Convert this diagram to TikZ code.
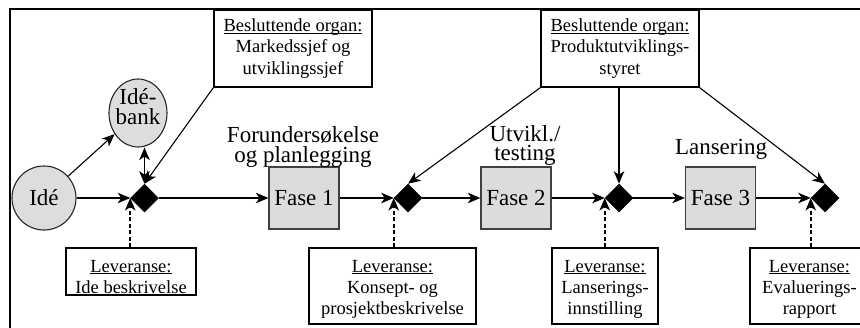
\documentclass[tikz,border=0pt]{standalone}
\usepackage{fontspec}
\setmainfont{Liberation Serif}
\usetikzlibrary{arrows.meta,shapes.geometric}
\definecolor{phasegray}{HTML}{DCDCDC}
\definecolor{bubblegray}{HTML}{DDDDDD}
\definecolor{edgegray}{HTML}{404040}
% underline set just under the baseline, through the descenders
\newcommand{\ulhead}[1]{\underline{\raisebox{0pt}[\height][0pt]{#1}}}
\begin{document}
\begin{tikzpicture}[x=1pt,y=-1pt,
  small/.style={font=\fontsize{18.5}{21}\selectfont},
  big/.style={font=\fontsize{23}{19.5}\selectfont},
  flow/.style={-{Stealth[length=12.5pt,width=10.5pt,inset=3.5pt]}, line width=1.1pt},
  both/.style={{Stealth[length=12.5pt,width=10.5pt,inset=3.5pt]}-{Stealth[length=12.5pt,width=10.5pt,inset=3.5pt]}, line width=1.1pt},
  feed/.style={-{Stealth[length=12.5pt,width=10.5pt,inset=3.5pt]}, line width=1.9pt, dash pattern=on 4pt off 2.5pt},
  bubble/.style={draw=black!85, line width=1.1pt, fill=bubblegray, inner sep=0, big, align=center},
  gate/.style={diamond, fill=black, draw=black, line width=0.5pt, minimum width=28pt, minimum height=28pt, inner sep=0},
  phase/.style={rectangle, draw=edgegray, line width=1.3pt, fill=phasegray, minimum width=70pt, minimum height=62pt, inner sep=0, big},
  card/.style={rectangle, draw, line width=1.4pt, inner sep=0},
  cardtext/.style={small, align=center, inner sep=0, anchor=north},
  phaselabel/.style={big, align=center, inner sep=0, anchor=north},
]
\useasboundingbox (0,0) rectangle (860,327);

% frame
\draw[line width=2pt] (10,328) -- (10,9) -- (862,9);

% idea nodes
\node[bubble, circle, minimum size=64pt] (ide) at (44,198) {Idé};
\node[bubble, ellipse, minimum width=58pt, minimum height=68pt] (bank) at (138,113) {};
\node[phaselabel] (banktext) at (138,88.6) {Idé-\\bank};

% decision gates
\node[gate] (d1) at (144.5,198) {};
\node[gate] (d2) at (408,198) {};
\node[gate] (d3) at (619,198) {};
\node[gate] (d4) at (825,198) {};

% phases
\node[phase] (f1) at (304,198) {Fase 1};
\node[phase] (f2) at (516,198) {Fase 2};
\node[phase] (f3) at (720.5,198) {Fase 3};

% phase titles
\node[phaselabel] (t1) at (303,126.8) {Forundersøkelse\\og planlegging};
\node[phaselabel] (t2) at (525,125.3) {Utvikl./\\testing};
\node[big, inner sep=0, anchor=base] (t3) at (721,154) {Lansering};

% decision bodies
\node[card, minimum width=158pt, minimum height=77pt, align=center,
      font=\fontsize{18.5}{21.5}\selectfont] (b1) at (293,48.5)
  {\ulhead{Besluttende organ:}\\Markedssjef og\\utviklingssjef};
\node[card, minimum width=158pt, minimum height=77pt, align=center,
      font=\fontsize{18.5}{21.5}\selectfont] (b2) at (620,48.5)
  {\ulhead{Besluttende organ:}\\Produktutviklings-\\styret};

% deliverables
\node[card, minimum width=130pt, minimum height=47pt] (l1) at (131,271.5) {};
\node[card, minimum width=167pt, minimum height=76pt] (l2) at (392.5,286) {};
\node[card, minimum width=106pt, minimum height=76pt] (l3) at (605,286) {};
\node[card, minimum width=120pt, minimum height=76pt] (l4) at (810,286) {};
\node[cardtext] (l1t) at (131,259.8) {\ulhead{Leveranse:}\\Ide beskrivelse};
\node[cardtext] (l2t) at (392.5,259.8) {\ulhead{Leveranse:}\\Konsept- og\\prosjektbeskrivelse};
\node[cardtext] (l3t) at (605,259.8) {\ulhead{Leveranse:}\\Lanserings-\\innstilling};
\node[cardtext] (l4t) at (809.5,259.8) {\ulhead{Leveranse:}\\Evaluerings-\\rapport};

% main flow
\draw[flow] (ide) -- (d1.west);
\draw[flow] (d1.east) -- (f1.west);
\draw[flow] (f1.east) -- (d2.west);
\draw[flow] (d2.east) -- (f2.west);
\draw[flow] (f2.east) -- (d3.west);
\draw[flow] (d3.east) -- (f3.west);
\draw[flow] (f3.east) -- (d4.west);

% idea bank
\draw[flow] (ide) -- (bank);
\draw[both] (d1.north |- bank.south) -- (d1.north);

% decisions
\draw[flow] (b1.south west) -- (d1.north);
\draw[flow] (b2.south west) -- (d2.north);
\draw[flow] (d3.north |- b2.south) -- (d3.north);
\draw[flow] (b2.south east) -- (d4.north);

% deliverables feed the gates
\draw[feed] (d1.west |- l1.north) -- (d1.west);
\draw[feed] (d2.west |- l2.north) -- (d2.west);
\draw[feed] (d3.west |- l3.north) -- (d3.west);
\draw[feed] (d4.west |- l4.north) -- (d4.west);
\end{tikzpicture}
\end{document}
